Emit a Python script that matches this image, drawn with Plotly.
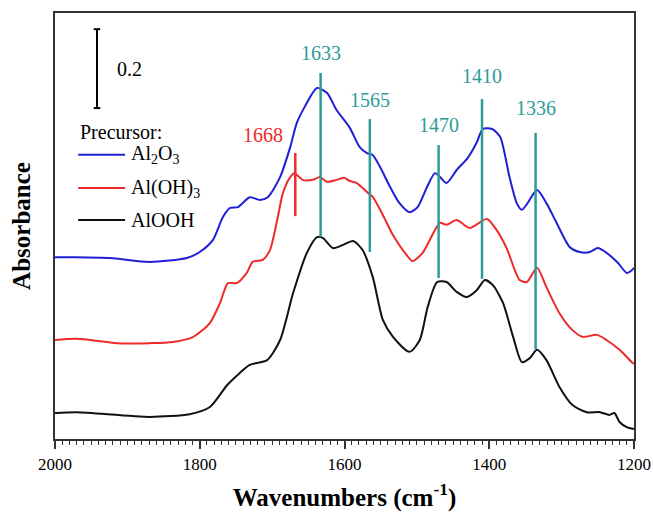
import plotly.graph_objects as go

# ---------------- data ----------------
wn_al2o3 = [2000, 1975, 1924, 1869, 1818, 1800, 1782, 1768, 1758, 1747, 1731, 1717, 1706, 1689,
            1675, 1666, 1655, 1638, 1624, 1611, 1593, 1579, 1569, 1561, 1551, 1537, 1524, 1510,
            1499, 1486, 1475, 1468, 1459, 1445, 1430, 1417, 1409, 1396, 1385, 1372, 1362, 1355,
            1347, 1334, 1321, 1307, 1289, 1275, 1261, 1250, 1238, 1222, 1210, 1203, 1200]
abs_al2o3 = [0.461, 0.461, 0.459, 0.449, 0.459, 0.474, 0.504, 0.563, 0.586, 0.588, 0.613, 0.606, 0.613, 0.664,
             0.740, 0.801, 0.842, 0.890, 0.877, 0.834, 0.790, 0.740, 0.725, 0.720, 0.690, 0.639, 0.598, 0.575,
             0.588, 0.639, 0.674, 0.664, 0.649, 0.682, 0.712, 0.753, 0.786, 0.786, 0.766, 0.664, 0.598, 0.581,
             0.598, 0.631, 0.598, 0.548, 0.487, 0.474, 0.474, 0.484, 0.472, 0.446, 0.421, 0.428, 0.434]

wn_aloh3 = [2000, 1970, 1914, 1869, 1837, 1809, 1786, 1772, 1761, 1749, 1735, 1727, 1713, 1703,
            1693, 1685, 1675, 1669, 1658, 1644, 1634, 1624, 1611, 1600, 1593, 1583, 1569, 1561,
            1547, 1533, 1514, 1506, 1492, 1475, 1468, 1459, 1445, 1427, 1403, 1390, 1376, 1358,
            1348, 1334, 1321, 1303, 1285, 1271, 1251, 1238, 1220, 1202, 1200]
abs_aloh3 = [0.251, 0.254, 0.243, 0.243, 0.246, 0.259, 0.294, 0.345, 0.395, 0.395, 0.421, 0.449, 0.454, 0.479,
             0.555, 0.624, 0.664, 0.674, 0.657, 0.657, 0.664, 0.652, 0.657, 0.662, 0.654, 0.649, 0.626, 0.614,
             0.568, 0.517, 0.466, 0.451, 0.472, 0.530, 0.548, 0.543, 0.555, 0.535, 0.558, 0.530, 0.484, 0.403,
             0.398, 0.434, 0.385, 0.319, 0.276, 0.259, 0.264, 0.251, 0.226, 0.193, 0.190]

wn_alooh = [2000, 1970, 1869, 1814, 1786, 1762, 1745, 1731, 1707, 1689, 1671, 1652, 1638, 1630,
            1616, 1602, 1588, 1575, 1561, 1547, 1533, 1510, 1496, 1485, 1472, 1459, 1445, 1431,
            1417, 1406, 1395, 1381, 1367, 1355, 1344, 1334, 1321, 1303, 1285, 1265, 1247, 1234,
            1227, 1220, 1210, 1200]
abs_alooh = [0.066, 0.068, 0.056, 0.063, 0.081, 0.137, 0.167, 0.188, 0.200, 0.251, 0.370, 0.472, 0.512, 0.510,
             0.484, 0.492, 0.502, 0.479, 0.411, 0.302, 0.259, 0.221, 0.251, 0.335, 0.398, 0.398, 0.373, 0.360,
             0.378, 0.403, 0.390, 0.345, 0.259, 0.195, 0.205, 0.226, 0.200, 0.132, 0.086, 0.068, 0.068, 0.061,
             0.066, 0.043, 0.030, 0.025]

series_names = ["Al<sub>2</sub>O<sub>3</sub>", "Al(OH)<sub>3</sub>", "AlOOH"]
series_colors = ["#1f1fd6", "#ee2a2a", "#111111"]
legend_title = "Precursor:"

# peak markers (teal)
peak_labels = ["1633", "1565", "1470", "1410", "1336"]
peak_wn = [1633, 1565, 1470, 1410, 1336]
peak_top = [0.928, 0.811, 0.745, 0.862, 0.776]
peak_bottom = [0.512, 0.474, 0.408, 0.406, 0.228]
peak_label_y = [0.979, 0.859, 0.796, 0.920, 0.839]

# red marker
red_label = "1668"
red_wn = 1668
red_top, red_bottom = 0.725, 0.565
red_label_wn, red_label_y = 1713, 0.771

# scale bar
scale_value = 0.2
scale_wn = 1942
scale_bottom = 0.839
scale_label_wn, scale_label_y = 1917, 0.938

TEAL = "#2c9c98"
SERIF = "Times New Roman, Liberation Serif, serif"

fig = go.Figure()
for i, (xs, ys) in enumerate([(wn_al2o3, abs_al2o3), (wn_aloh3, abs_aloh3), (wn_alooh, abs_alooh)]):
    fig.add_trace(go.Scatter(
        x=xs, y=ys, mode="lines", name=series_names[i],
        line=dict(color=series_colors[i], width=2, shape="spline", smoothing=0.7),
        showlegend=False, hoverinfo="skip"))

shapes = []
annotations = []
for lab, w, t, b, ly in zip(peak_labels, peak_wn, peak_top, peak_bottom, peak_label_y):
    shapes.append(dict(type="line", xref="x", yref="y", x0=w, x1=w, y0=b, y1=t,
                       line=dict(color=TEAL, width=2.5)))
    annotations.append(dict(x=w, y=ly, xref="x", yref="y", text=lab, showarrow=False,
                            font=dict(family=SERIF, size=20, color=TEAL)))
shapes.append(dict(type="line", xref="x", yref="y", x0=red_wn, x1=red_wn, y0=red_bottom, y1=red_top,
                   line=dict(color="#ee2a2a", width=2.5)))
annotations.append(dict(x=red_label_wn, y=red_label_y, xref="x", yref="y", text=red_label, showarrow=False,
                        font=dict(family=SERIF, size=20, color="#ee2a2a")))

# scale bar
scale_top = scale_bottom + scale_value
shapes.append(dict(type="line", xref="x", yref="y", x0=scale_wn, x1=scale_wn, y0=scale_bottom, y1=scale_top,
                   line=dict(color="black", width=2)))
for yy in (scale_bottom, scale_top):
    shapes.append(dict(type="line", xref="x", yref="y", x0=scale_wn + 4.5, x1=scale_wn - 4.5, y0=yy, y1=yy,
                       line=dict(color="black", width=2)))
annotations.append(dict(x=scale_label_wn, y=scale_label_y, xref="x", yref="y", text=str(scale_value),
                        showarrow=False, xanchor="left",
                        font=dict(family=SERIF, size=20, color="black")))

# legend (drawn in paper coordinates)
leg_x0, leg_x1, leg_tx = 0.040, 0.121, 0.128
leg_title_y = 0.721
leg_rows_y = [0.667, 0.589, 0.514]
annotations.append(dict(x=leg_x0, y=leg_title_y, xref="paper", yref="paper", text=legend_title,
                        showarrow=False, xanchor="left", yanchor="middle",
                        font=dict(family=SERIF, size=20, color="black")))
for name, col, yy in zip(series_names, series_colors, leg_rows_y):
    shapes.append(dict(type="line", xref="paper", yref="paper", x0=leg_x0, x1=leg_x1, y0=yy, y1=yy,
                       line=dict(color=col, width=2)))
    annotations.append(dict(x=leg_tx, y=yy, xref="paper", yref="paper", text=name, showarrow=False,
                            xanchor="left", yanchor="middle",
                            font=dict(family=SERIF, size=20, color="black")))

fig.update_layout(
    width=653, height=512,
    margin=dict(l=55, r=19, t=13, b=73),
    paper_bgcolor="white", plot_bgcolor="white",
    font=dict(family=SERIF, color="black"),
    shapes=shapes, annotations=annotations,
    showlegend=False,
    xaxis=dict(
        range=[2000, 1200], autorange=False, automargin=False,
        tickvals=[2000, 1800, 1600, 1400, 1200],
        ticks="outside", ticklen=8, tickwidth=1.5, tickcolor="#333",
        minor=dict(dtick=10, ticks="outside", ticklen=4, tickwidth=1, tickcolor="#333"),
        showline=True, linecolor="#333", linewidth=1.5, mirror=True,
        showgrid=False, zeroline=False,
        ticklabelstandoff=1,
        tickfont=dict(family=SERIF, size=17, color="black"),
        title=dict(text="<b>Wavenumbers (cm<sup>-1</sup>)</b>", standoff=22,
                   font=dict(family=SERIF, size=25, color="black")),
    ),
    yaxis=dict(
        range=[0, 1.08], autorange=False, automargin=False,
        showticklabels=False, ticks="",
        showline=True, linecolor="#333", linewidth=1.5, mirror=True,
        showgrid=False, zeroline=False,
        title=dict(text="<b>Absorbance</b>", standoff=16,
                   font=dict(family=SERIF, size=25, color="black")),
    ),
)

fig.write_html(
    "out.html",
    config={"displayModeBar": False},
    post_script="document.body.style.margin='0';document.body.style.padding='0';"
                "document.body.style.overflow='hidden';",
)
